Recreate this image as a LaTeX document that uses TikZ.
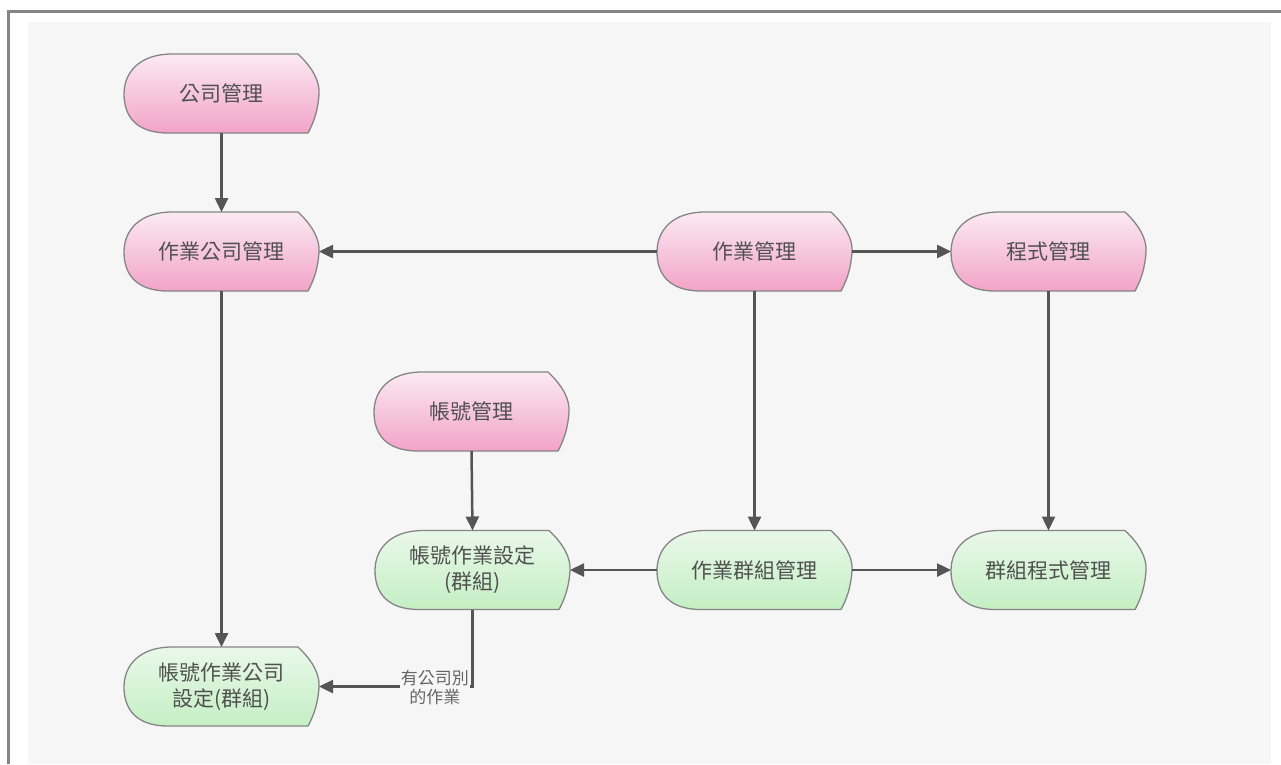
\documentclass[tikz,border=0pt]{standalone}
\usepackage{fontspec}
\newfontfamily\cjk{Noto Sans CJK TC}
\usetikzlibrary{arrows.meta,calc}
\pgfdeclarelayer{back}
\pgfdeclarelayer{shapes}
\pgfsetlayers{back,shapes,main}
\definecolor{bgc}{HTML}{F6F6F6}
\definecolor{framec}{HTML}{858585}
\definecolor{bordc}{HTML}{858585}
\definecolor{linec}{HTML}{555555}
\definecolor{txtc}{HTML}{505050}
\definecolor{lblc}{HTML}{666666}
\definecolor{pinktop}{HTML}{FBEAF3}
\definecolor{pinkbot}{HTML}{F2A3C8}
\definecolor{greentop}{HTML}{E9F8E9}
\definecolor{greenbot}{HTML}{C4EFC4}
\tikzset{
  proc/.style={minimum width=195pt, minimum height=79pt, inner sep=0pt, outer sep=0pt,
    align=center, font=\cjk\fontsize{21}{26}\selectfont, text=txtc},
  conn/.style={draw=linec, line width=2.5pt, -{Triangle[length=14pt,width=13pt]}},
  lbl/.style={font=\cjk\fontsize{17}{19}\selectfont, text=lblc, fill=bgc, inner sep=1pt, align=center}
}
\newcommand\fshape[3]{%
  \begin{pgfonlayer}{shapes}
  \path[draw=bordc, line width=1.3pt, top color=#2, bottom color=#3]
    ($(#1.north west)+(48,0)$) -- ($(#1.north west)+(174,0)$)
    .. controls ($(#1.north west)+(189,14)$) and ($(#1.north west)+(196,28)$) .. ($(#1.north west)+(195,40)$)
    .. controls ($(#1.north west)+(194,56)$) and ($(#1.north west)+(190,68)$) .. ($(#1.north west)+(184,79)$)
    -- ($(#1.north west)+(44,79)$)
    .. controls ($(#1.north west)+(12,79)$) and ($(#1.north west)+(0,62)$) .. ($(#1.north west)+(0,40)$)
    .. controls ($(#1.north west)+(0,18)$) and ($(#1.north west)+(16,0)$) .. cycle;
  \end{pgfonlayer}}
\begin{document}
\begin{tikzpicture}[x=1pt,y=-1pt]
\useasboundingbox (0,0) rectangle (1281,764);
\begin{pgfonlayer}{back}
  \fill[white] (0,0) rectangle (1281,764);
  \fill[bgc] (28,22) rectangle (1271,764);
  \draw[framec, line width=3pt] (8.5,764) -- (8.5,11.5) -- (1281,11.5);
\end{pgfonlayer}

\node[proc] (gs)  at (221.5,93.5)  {公司管理};
\node[proc] (zc)  at (221.5,251.5) {作業公司管理};
\node[proc] (zm)  at (754.5,251.5) {作業管理};
\node[proc] (cm)  at (1048.5,251.5) {程式管理};
\node[proc] (zh)  at (471.5,411.5) {帳號管理};
\node[proc] (zs)  at (472.5,570)   {帳號作業設定\\(群組)};
\node[proc] (zg)  at (754.5,570)   {作業群組管理};
\node[proc] (gc)  at (1048.5,570)  {群組程式管理};
\node[proc] (zcs) at (221.5,686.5) {帳號作業公司\\設定(群組)};

\fshape{gs}{pinktop}{pinkbot}
\fshape{zc}{pinktop}{pinkbot}
\fshape{zm}{pinktop}{pinkbot}
\fshape{cm}{pinktop}{pinkbot}
\fshape{zh}{pinktop}{pinkbot}
\fshape{zs}{greentop}{greenbot}
\fshape{zg}{greentop}{greenbot}
\fshape{gc}{greentop}{greenbot}
\fshape{zcs}{greentop}{greenbot}

\draw[conn] (gs.south) -- (zc.north);
\draw[conn] (zm.west) -- (zc.east);
\draw[conn] (zm.east) -- (cm.west);
\draw[conn] (zm.south) -- (zg.north);
\draw[conn] (cm.south) -- (gc.north);
\draw[conn] (zh.south) -- (zs.north);
\draw[conn] (zg.west) -- (zs.east);
\draw[conn] (zg.east) -- (gc.west);
\draw[conn] (zc.south) -- (zcs.north);
\draw[conn] (zs.south) |- (zcs.east);
\node[lbl, anchor=east] (lab) at (470,688) {有公司別\\的作業};
\end{tikzpicture}
\end{document}
